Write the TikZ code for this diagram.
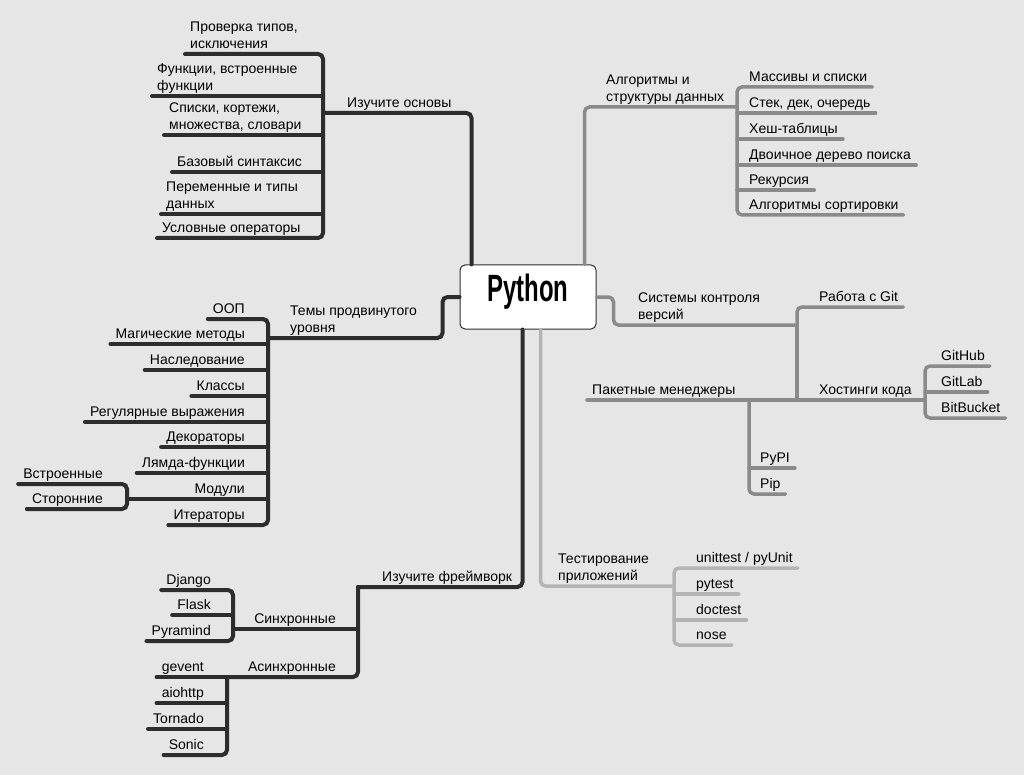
\documentclass[tikz,border=0pt]{standalone}
\usepackage{fontspec}
\setmainfont{Liberation Sans}
\definecolor{bgc}{HTML}{E6E6E6}
\definecolor{dkc}{HTML}{2D2D2D}
\definecolor{mdc}{HTML}{8A8A8A}
\definecolor{ltc}{HTML}{B4B4B4}
\newcommand{\twoline}[2]{\begin{tabular}[b]{@{}l@{}}#1\\#2\end{tabular}}
\tikzset{
	lr/.style={anchor=south west,inner xsep=5pt,inner ysep=2pt,text depth=3.5pt},
	ll/.style={anchor=south east,inner xsep=5pt,inner ysep=2pt,text depth=3.5pt},
	dk/.style={draw=dkc,line width=4pt,rounded corners=5pt,line cap=round},
	md/.style={draw=mdc,line width=3.5pt,rounded corners=5pt,line cap=round},
	lt/.style={draw=ltc,line width=3.5pt,rounded corners=5pt,line cap=round},
	pybox/.style={draw=dkc,fill=white,rounded corners=5pt,line width=1pt,minimum width=136pt,minimum height=64pt,font=\fontsize{38}{40}\selectfont\bfseries,text depth=18pt}
}

\begin{document}
\begin{tikzpicture}[x=1pt,y=-1pt,font=\fontsize{14}{17}\selectfont]
	\useasboundingbox (0,0) rectangle (1024,775);
	\fill[bgc] (0,0) rectangle (1024,775);
	\node [pybox] (py) at (528,297) {\scalebox{0.63}[1]{Python}};

	\coordinate (bas) at (323,113);
	\node [lr] (bas0) at (342,113) {Изучите основы};
	\node [lr] (b1) at (185,54) {\twoline{Проверка типов,}{исключения}};
	\node [lr] (b2) at (152,96) {\twoline{Функции, встроенные}{функции}};
	\node [lr] (b3) at (164,135) {\twoline{Списки, кортежи,}{множества, словари}};
	\node [lr] (b4) at (172,172) {Базовый синтаксис};
	\node [lr] (b5) at (161,214) {\twoline{Переменные и типы}{данных}};
	\node [lr] (b6) at (157,238) {Условные операторы};

	\draw[dk] ([xshift=12pt]py.north west) |- (bas);
	\draw[dk] (bas) |- (b1.south west);
	\draw[dk] (bas) |- (b6.south west);
	\foreach \n in {b2,b3,b4,b5}
		\draw[dk] (\n.south west) -- (\n.south west -| bas);

	\coordinate (adv) at (268,338);
	\coordinate (mod) at (127,499);
	\node [lr] (adv0) at (285,338) {\twoline{Темы продвинутого}{уровня}};
	\node [ll] (a1) at (250,319) {ООП};
	\node [ll] (a2) at (250,344) {Магические методы};
	\node [ll] (a3) at (250,370) {Наследование};
	\node [ll] (a4) at (250,396) {Классы};
	\node [ll] (a5) at (250,422) {Регулярные выражения};
	\node [ll] (a6) at (250,447) {Декораторы};
	\node [ll] (a7) at (250,473) {Лямда-функции};
	\node [ll] (a8) at (250,499) {Модули};
	\node [ll] (a9) at (250,525) {Итераторы};
	\node [ll] (a8a) at (108,484) {Встроенные};
	\node [ll] (a8b) at (108,509) {Сторонние};

	\draw[dk] (py.west) -- ++(-17,0) |- (adv);
	\draw[dk] (adv) |- (a1.south west);
	\draw[dk] (adv) |- (a9.south west);
	\foreach \n in {a2,a3,a4,a5,a6,a7}
		\draw[dk] (\n.south west) -- (\n.south west -| adv);
	\draw[dk] (mod) -- (mod -| adv);
	\draw[dk] (mod) |- (a8a.south west);
	\draw[dk] (mod) |- (a8b.south west);

	\coordinate (fw) at (358,587);
	\coordinate (syn) at (233,629);
	\coordinate (asy) at (227,677);
	\node [lr] (fw0) at (377,587) {Изучите фреймворк};
	\node [ll] (syn0) at (341,629) {Синхронные};
	\node [ll] (asy0) at (341,677) {Асинхронные};
	\node [ll] (s1) at (216,590) {Django};
	\node [ll] (s2) at (216,615) {Flask};
	\node [ll] (s3) at (216,641) {Pyramind};
	\node [ll] (f1) at (209,677) {gevent};
	\node [ll] (f2) at (209,703) {aiohttp};
	\node [ll] (f3) at (209,729) {Tornado};
	\node [ll] (f4) at (209,755) {Sonic};

	\draw[dk] ([xshift=63pt]py.south west) |- (fw);
	\draw[dk] (fw) |- (asy);
	\draw[dk] (syn) -- (syn -| fw);
	\draw[dk] (syn) |- (s1.south west);
	\draw[dk] (syn) |- (s3.south west);
	\draw[dk] (s2.south west) -- (s2.south west -| syn);
	\draw[dk] (asy) -- (f1.south west);
	\draw[dk] (asy) |- (f4.south west);
	\foreach \n in {f2,f3}
		\draw[dk] (\n.south west) -- (\n.south west -| asy);

	\coordinate (alg) at (737,107);
	\node [lr] (alg0) at (601,107) {\twoline{Алгоритмы и}{структуры данных}};
	\node [lr] (m1) at (744,87) {Массивы и списки};
	\node [lr] (m2) at (744,113) {Стек, дек, очередь};
	\node [lr] (m3) at (744,139) {Хеш-таблицы};
	\node [lr] (m4) at (744,165) {Двоичное дерево поиска};
	\node [lr] (m5) at (744,190) {Рекурсия};
	\node [lr] (m6) at (744,215) {Алгоритмы сортировки};

	\draw[md] ([xshift=125pt]py.north west) |- (alg);
	\draw[md] (alg) |- (m1.south east);
	\draw[md] (alg) |- (m6.south east);
	\foreach \n in {m2,m3,m4,m5}
		\draw[md] (\n.south west -| alg) -- (\n.south east);

	\coordinate (vcs) at (797,325);
	\coordinate (pkg) at (797,400);
	\coordinate (hst) at (925,400);
	\coordinate (pip) at (749,400);
	\node [lr] (vcs0) at (633,325) {\twoline{Системы контроля}{версий}};
	\node [lr] (g1) at (814,307) {Работа с Git};
	\node [lr] (p0) at (587,400) {Пакетные менеджеры};
	\node [lr] (h0) at (814,400) {Хостинги кода};
	\node [lr] (h1) at (936,366) {GitHub};
	\node [lr] (h2) at (936,392) {GitLab};
	\node [lr] (h3) at (936,418) {BitBucket};
	\node [lr] (q1) at (755,468) {PyPI};
	\node [lr] (q2) at (755,494) {Pip};

	\draw[md] (py.east) -- ++(17,0) |- (vcs);
	\draw[md] (vcs) |- (g1.south east);
	\draw[md] (vcs) -- (pkg);
	\draw[md] (p0.south west) -- (hst);
	\draw[md] (hst) |- (h1.south east);
	\draw[md] (hst) |- (h3.south east);
	\draw[md] (h2.south west -| hst) -- (h2.south east);
	\draw[md] (pip) |- (q2.south east);
	\draw[md] (q1.south west -| pip) -- (q1.south east);

	\coordinate (tst) at (674,586);
	\node [lr] (tst0) at (553,586) {\twoline{Тестирование}{приложений}};
	\node [lr] (t1) at (691,568) {unittest / pyUnit};
	\node [lr] (t2) at (691,594) {pytest};
	\node [lr] (t3) at (691,620) {doctest};
	\node [lr] (t4) at (691,645) {nose};

	\draw[lt] ([xshift=81pt]py.south west) |- (tst);
	\draw[lt] (tst) |- (t1.south east);
	\draw[lt] (tst) |- (t4.south east);
	\foreach \n in {t2,t3}
		\draw[lt] (\n.south west -| tst) -- (\n.south east);
\end{tikzpicture}
\end{document}
